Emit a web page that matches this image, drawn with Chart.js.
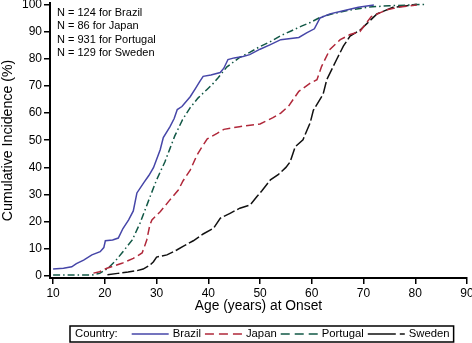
<!DOCTYPE html>
<html>
<head>
<meta charset="utf-8">
<script src="https://cdn.jsdelivr.net/npm/chart.js@4.4.1/dist/chart.umd.min.js"></script>
<style>
html, body { margin: 0; padding: 0; background: #fff; }
</style>
</head>
<body>
<canvas id="incidenceChart" width="472" height="343"></canvas>
<script>
// cumulative incidence by age at onset
const brazilAge = [10, 12, 13.6, 14.5, 15.9, 17.5, 19.1, 19.8, 20.1, 21.5, 22.6, 23.5, 24.6, 25.5, 26.2, 27.5, 28.5, 29.4, 30.7, 31.3, 32.6, 33.4, 34, 34.9, 36.5, 37.5, 38.3, 39, 40.5, 42.3, 43, 43.8, 45, 46.7, 48, 50, 52, 54, 57.5, 59, 60.5, 61.6, 63.5, 65.5, 69, 72];
const brazilPct = [2.6, 2.9, 3.4, 4.6, 5.9, 7.8, 9, 10.5, 13, 13.3, 14, 17.5, 20.7, 24, 30.6, 34.3, 37, 39.9, 46.5, 51, 55, 58, 61.3, 62.4, 66, 69, 71.5, 73.5, 74, 74.9, 76.5, 79.7, 80.3, 80.8, 81.5, 83.5, 85.2, 87, 87.8, 89.5, 91, 95, 96.5, 97.4, 98.9, 99.8];

const japanAge = [17.8, 19, 20.4, 23.3, 25.5, 27.2, 27.6, 28.1, 28.7, 29.1, 30.7, 32.3, 34.2, 35.1, 36.5, 37.8, 38.6, 39.8, 41.7, 43, 46, 50, 52.5, 54, 55.5, 56.4, 57.5, 59.7, 61, 61.9, 63.5, 65.5, 67.4, 69.3, 70.5, 71.5, 74.5, 77, 80.3];
const japanPct = [1.1, 1.6, 2.9, 4.7, 6.5, 8.5, 10.5, 13.3, 18.8, 20.7, 23.7, 27.4, 31.7, 35, 39, 44.5, 47, 50.5, 52.5, 54, 55, 56, 58.3, 60, 62.5, 65, 68, 71, 72.3, 77.2, 83.4, 87, 88.9, 90, 93, 95.5, 98, 99, 99.8];

const portugalAge = [10, 17.5, 19, 20.6, 22, 23.3, 25.3, 26.8, 28.7, 30, 31.6, 32.6, 33.5, 35, 36.5, 38, 39.7, 41, 41.9, 43.6, 46, 48, 50, 52, 54, 56, 58, 59.7, 61.6, 64, 67, 71, 75, 82];
const portugalPct = [0.4, 0.4, 1, 2.9, 5.5, 8.5, 13.3, 19.5, 29, 35.4, 42, 47, 51.5, 57.5, 62, 65.5, 68.6, 71, 73, 77, 80.4, 82.3, 84.5, 86.3, 88.5, 90.2, 92, 93.3, 95.2, 96.5, 97.8, 99, 99.5, 100];

const swedenAge = [20.5, 22.5, 24.5, 26.2, 27.4, 28.7, 29.4, 30, 32, 33.9, 35.2, 37.1, 39, 41, 42.3, 44.2, 46.1, 48.1, 49.4, 50.4, 52, 53.5, 55, 55.8, 56.8, 58.3, 59.7, 60.3, 62.2, 62.9, 64.8, 66.1, 67.4, 69.3, 70.7, 72.6, 75.7, 80.3];
const swedenPct = [0.5, 1, 1.5, 2, 2.6, 4, 5.3, 7, 7.8, 9.6, 11, 13, 15.5, 17.6, 21.3, 23.1, 25, 26.2, 29.3, 31.5, 35.4, 37.3, 40, 42, 47.6, 50.2, 56.5, 61, 67, 72.3, 79.7, 84.6, 88.3, 90.5, 93, 96.5, 98.9, 100];

const countries = ['Brazil', 'Japan', 'Portugal', 'Sweden'];
const sampleSizes = [124, 86, 931, 129];
const xTicks = [10, 20, 30, 40, 50, 60, 70, 80, 90];
const yTicks = [0, 10, 20, 30, 40, 50, 60, 70, 80, 90, 100];

const FONT = '"Liberation Sans", Arial, sans-serif';

function toPoints(ages, pcts) {
    return ages.map((a, i) => ({ x: a, y: pcts[i] }));
}

// dash used for the short samples in the legend box
const legendDash = [[], [9, 5], [9, 5], [28, 4]];

// "N = ..." text in the upper left corner
const sampleText = {
    id: 'sampleText',
    afterDraw(chart) {
        const ctx = chart.ctx;
        ctx.save();
        ctx.font = '11px ' + FONT;
        ctx.fillStyle = '#000';
        ctx.textBaseline = 'middle';
        sampleSizes.forEach((n, i) => {
            ctx.fillText('N = ' + n + ' for ' + countries[i], chart.chartArea.left + 7, 13 + i * 13.4);
        });
        ctx.restore();
    }
};

// boxed legend under the axis
const legendBox = {
    id: 'legendBox',
    afterDraw(chart) {
        const ctx = chart.ctx;
        ctx.save();
        ctx.font = '11.3px ' + FONT;
        ctx.textBaseline = 'middle';
        ctx.fillStyle = '#000';
        const left = 70, top = 326, h = 16;
        const cy = top + h / 2;
        let x = left + 5;
        ctx.fillText('Country:', x, cy);
        x += ctx.measureText('Country:').width + 14;
        chart.data.datasets.forEach((ds, i) => {
            ctx.strokeStyle = ds.borderColor;
            ctx.lineWidth = 1.4;
            ctx.setLineDash(legendDash[i]);
            ctx.beginPath();
            ctx.moveTo(x, cy);
            ctx.lineTo(x + 37, cy);
            ctx.stroke();
            ctx.setLineDash([]);
            x += 41;
            ctx.fillText(ds.label, x, cy);
            x += ctx.measureText(ds.label).width + 4;
        });
        ctx.strokeStyle = '#000';
        ctx.lineWidth = 1.5;
        ctx.strokeRect(left, top, x - left, h);
        ctx.restore();
    }
};

new Chart(document.getElementById('incidenceChart'), {
    type: 'line',
    data: {
        datasets: [
            { label: countries[0], data: toPoints(brazilAge, brazilPct), borderColor: '#4646a8', borderWidth: 1.5 },
            { label: countries[1], data: toPoints(japanAge, japanPct), borderColor: '#b0283a', borderWidth: 1.5, borderDash: [8, 4] },
            { label: countries[2], data: toPoints(portugalAge, portugalPct), borderColor: '#125846', borderWidth: 1.5, borderDash: [7, 3, 1.5, 3] },
            { label: countries[3], data: toPoints(swedenAge, swedenPct), borderColor: '#111111', borderWidth: 1.5, borderDash: [12, 3] },
        ],
    },
    options: {
        responsive: false,
        animation: false,
        devicePixelRatio: 1,
        elements: { point: { radius: 0 }, line: { tension: 0 } },
        layout: { padding: { top: 3, right: 5, bottom: 0, left: 0 } },
        plugins: { legend: { display: false }, tooltip: { enabled: false } },
        scales: {
            x: {
                type: 'linear',
                min: 9.4,
                max: 90,
                afterBuildTicks: (scale) => { scale.ticks = xTicks.map(v => ({ value: v })); },
                afterFit: (scale) => { scale.height = 65; scale.paddingLeft = 0; scale.paddingRight = 0; },
                grid: { drawOnChartArea: false, color: '#000', lineWidth: 1.5, tickLength: 6 },
                border: { color: '#000', width: 2 },
                ticks: { color: '#000', font: { family: FONT, size: 12 }, padding: 2, maxRotation: 0 },
                title: { display: true, text: 'Age (years) at Onset', color: '#000', font: { family: FONT, size: 13.8 }, padding: { top: 0, bottom: 29 } },
            },
            y: {
                min: -0.7,
                max: 100.5,
                afterBuildTicks: (scale) => { scale.ticks = yTicks.map(v => ({ value: v })); },
                afterFit: (scale) => { scale.width = 50; scale.paddingTop = 0; scale.paddingBottom = 0; },
                grid: { drawOnChartArea: false, color: '#000', lineWidth: 1.5, tickLength: 6 },
                border: { color: '#000', width: 2 },
                ticks: { color: '#000', font: { family: FONT, size: 12 }, padding: 2 },
                title: { display: true, text: 'Cumulative Incidence (%)', color: '#000', font: { family: FONT, size: 14.2 }, padding: { top: 0, bottom: 0 } },
            },
        },
    },
    plugins: [sampleText, legendBox],
});
</script>
</body>
</html>
